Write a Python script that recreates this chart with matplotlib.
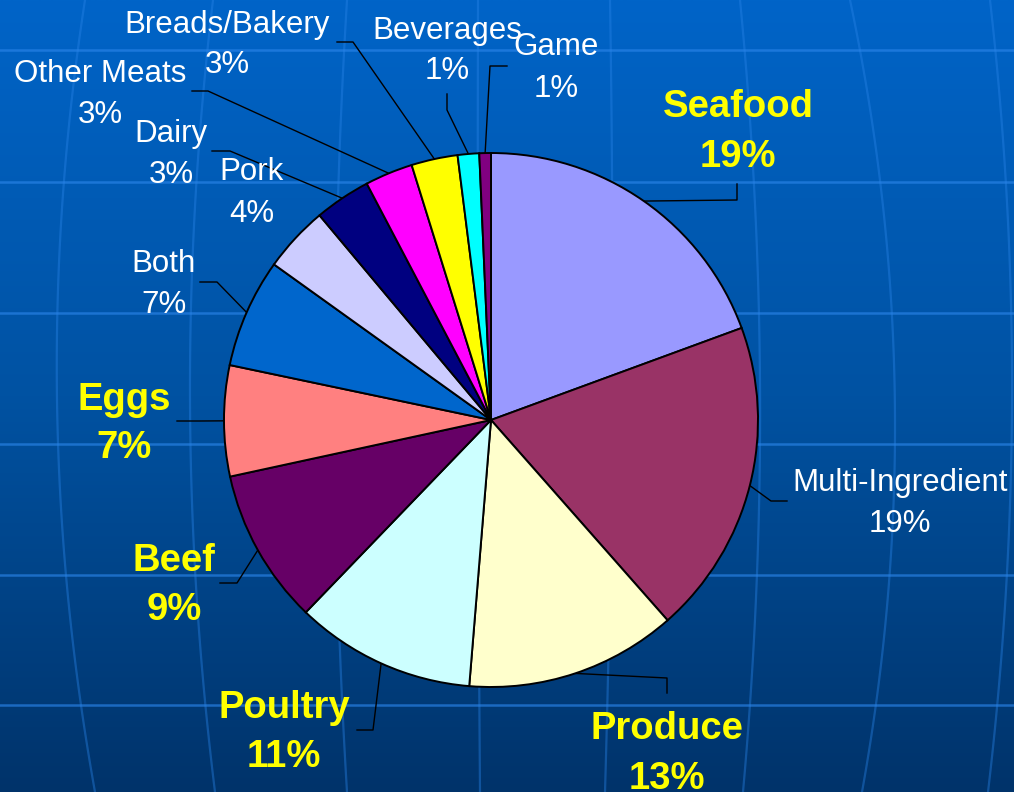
import numpy as np
import matplotlib
matplotlib.use("Agg")
import matplotlib.pyplot as plt
from matplotlib.colors import to_rgb

plt.rcParams['font.family'] = ['Liberation Sans', 'DejaVu Sans']

# data, clockwise from 12 o'clock
categories = ['Seafood', 'Multi-Ingredient', 'Produce', 'Poultry', 'Beef', 'Eggs',
              'Both', 'Pork', 'Dairy', 'Other Meats', 'Breads/Bakery', 'Beverages', 'Game']
shares = [19.4, 19.1, 12.8, 10.9, 9.4, 6.7, 6.6, 4.0, 3.4, 2.9, 2.8, 1.3, 0.7]
colors = ['#9999FF', '#993366', '#FFFFCC', '#CCFFFF', '#660066', '#FF8080',
          '#0066CC', '#CCCCFF', '#000080', '#FF00FF', '#FFFF00', '#00FFFF', '#800080']
highlight = ['Seafood', 'Produce', 'Poultry', 'Beef', 'Eggs']

W, H = 1014, 792
CX, CY, R = 491, 420, 267   # pie centre/radius in pixels (y from top)

# label layout in pixels: x centre, baseline of name, baseline of percent
label_pos = {
    'Seafood': (738, 117, 167),
    'Multi-Ingredient': (900, 491, 532),
    'Produce': (667, 739, 789),
    'Poultry': (284, 718, 767),
    'Beef': (174, 571, 620),
    'Eggs': (124, 410, 458),
    'Both': (164, 272, 313),
    'Pork': (252, 180, 222),
    'Dairy': (171, 142, 183),
    'Other Meats': (100, 82, 123),
    'Breads/Bakery': (227, 33, 73),
    'Beverages': (447, 39, 79),
    'Game': (556, 55, 97),
}
# leader lines: start and elbow, last point is the wedge edge
leaders = {
    'Seafood': [(737, 184), (737, 200)],
    'Multi-Ingredient': [(787, 501), (771, 501)],
    'Produce': [(667, 693), (667, 678)],
    'Poultry': [(357, 730), (373, 730)],
    'Beef': [(220, 583), (237, 583)],
    'Eggs': [(177, 421), (200, 421)],
    'Both': [(200, 282), (217, 282)],
    'Dairy': [(212, 151), (230, 151)],
    'Other Meats': [(192, 91), (208, 91)],
    'Breads/Bakery': [(337, 42), (353, 42)],
    'Beverages': [(447, 94), (447, 110)],
    'Game': [(507, 66), (490, 66)],
}


def P(x, y):
    return x, H - y


fig = plt.figure(figsize=(W / 100, H / 100), dpi=100)
ax = fig.add_axes([0, 0, 1, 1])

# background gradient
top, mid, bot = np.array(to_rgb('#0064C8')), np.array(to_rgb('#0052A2')), np.array(to_rgb('#00336A'))
t = np.linspace(0, 1, 400)[:, None]
grad = np.where(t < 0.5, top + (mid - top) * (t / 0.5), mid + (bot - mid) * ((t - 0.5) / 0.5))
ax.imshow(grad[:, None, :].repeat(2, axis=1), extent=(0, W, 0, H), aspect='auto',
          origin='upper', zorder=0)

# globe grid
for gy in [50, 182, 313, 444, 575, 705]:
    ax.plot([0, W], [H - gy, H - gy], color='#2a84e8', lw=1.8, alpha=0.65, zorder=0.5)
meridians = [[(85, 0), (57, 400), (95, 792)],
             [(213, 0), (190, 400), (215, 792)],
             [(347, 0), (335, 400), (347, 792)],
             [(478, 0), (478, 400), (480, 792)],
             [(610, 0), (612, 400), (605, 792)],
             [(740, 0), (760, 440), (743, 792)],
             [(850, 0), (895, 420), (862, 792)],
             [(990, 0), (1012, 400), (988, 792)]]
ys = np.linspace(0, H, 100)
for m in meridians:
    cf = np.polyfit([p[1] for p in m], [p[0] for p in m], 2)
    ax.plot(np.polyval(cf, ys), H - ys, color='#2a84e8', lw=1.6, alpha=0.4, zorder=0.5)

wedges, _ = ax.pie(shares, colors=colors, startangle=90, counterclock=False,
                   radius=R, center=P(CX, CY), frame=True,
                   wedgeprops=dict(edgecolor='black', linewidth=1.4))
for w in wedges:
    w.set_zorder(2)

for name, w in zip(categories, wedges):
    if name in leaders:
        ang = np.deg2rad((w.theta1 + w.theta2) / 2)
        ex, ey = CX + R * np.cos(ang), CY - R * np.sin(ang)
        pts = leaders[name] + [(ex, ey)]
        ax.plot([p[0] for p in pts], [H - p[1] for p in pts], color='black', lw=1.0, zorder=1.5)

for name, v in zip(categories, shares):
    x, b1, b2 = label_pos[name]
    if name in highlight:
        kw = dict(color='#FFFF00', fontsize=27.5, fontweight='bold')
    else:
        kw = dict(color='white', fontsize=22.5)
    ax.text(*P(x, b1), name, ha='center', va='baseline', zorder=3, **kw)
    ax.text(*P(x, b2), f"{v:.0f}%", ha='center', va='baseline', zorder=3, **kw)

ax.set_xlim(0, W)
ax.set_ylim(0, H)
ax.axis('off')
fig.savefig('out.png', dpi=100)
